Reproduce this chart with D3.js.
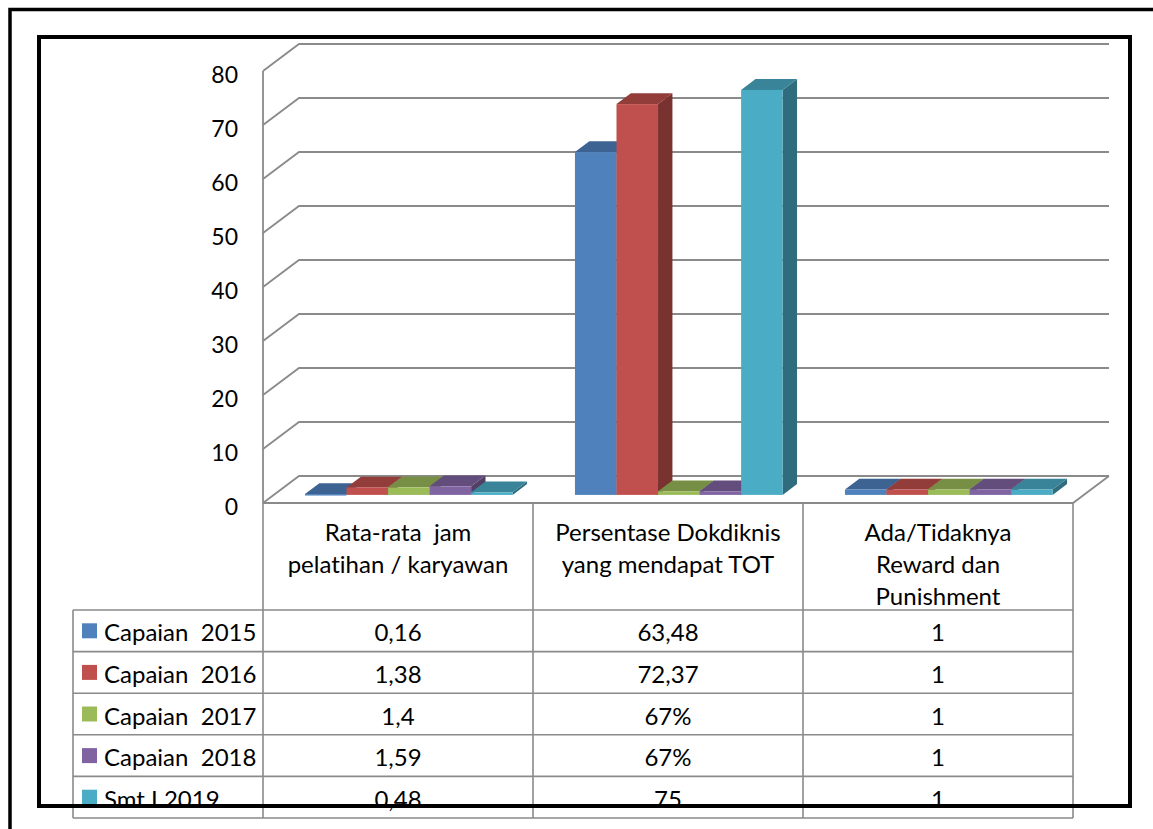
<!DOCTYPE html>
<html>
<head>
<meta charset="utf-8">
<script src="https://cdn.jsdelivr.net/npm/d3@7"></script>
<style>
  body { margin: 0; background: #fff; }
  svg { display: block; font-family: Lato, "Open Sans", sans-serif; font-variant-ligatures: none; }
  text { white-space: pre; fill: #000; }
</style>
</head>
<body>
<div id="chart"></div>
<script>
// categories (header rows of the data table)
const categories = [
    ['Rata-rata  jam', 'pelatihan / karyawan'],
    ['Persentase Dokdiknis', 'yang mendapat TOT'],
    ['Ada/Tidaknya', 'Reward dan', 'Punishment']
];

const seriesNames = ['Capaian  2015', 'Capaian  2016', 'Capaian  2017', 'Capaian  2018', 'Smt I 2019'];
const seriesColors = ['#4F81BD', '#C0504D', '#9BBB59', '#8064A2', '#4BACC6'];

// plotted values (67% is plotted as 0.67)
const values2015 = [0.16, 63.48, 1];
const values2016 = [1.38, 72.37, 1];
const values2017 = [1.4, 0.67, 1];
const values2018 = [1.59, 0.67, 1];
const values2019 = [0.48, 75, 1];

// values as printed in the table
const labels2015 = ['0,16', '63,48', '1'];
const labels2016 = ['1,38', '72,37', '1'];
const labels2017 = ['1,4', '67%', '1'];
const labels2018 = ['1,59', '67%', '1'];
const labels2019 = ['0,48', '75', '1'];

const yTicks = [0, 10, 20, 30, 40, 50, 60, 70, 80];

const seriesValues = [values2015, values2016, values2017, values2018, values2019];
const seriesLabels = [labels2015, labels2016, labels2017, labels2018, labels2019];

const W = 1153, H = 829;
const svg = d3.select('#chart').append('svg').attr('width', W).attr('height', H);

// front plane scales
const x = d3.scaleBand().domain(d3.range(categories.length)).range([263, 1073]);
const xs = d3.scaleBand().domain(d3.range(seriesNames.length)).range([0, x.bandwidth()])
    .paddingInner(0).paddingOuter(0.75);
const y = d3.scaleLinear().domain([0, 80]).range([503, 71]);

// depth of the floor and of the bars
const depth = { dx: 36, dy: -27 };
const barFront = 0.3, barBack = 0.7;

const gridColor = '#8a8a8a';
const fs = 24;

// back wall gridlines + left wall
const grid = svg.append('g');
yTicks.forEach(t => {
    grid.append('path')
        .attr('d', `M${x.range()[0]},${y(t)} l${depth.dx},${depth.dy} H${x.range()[1] + depth.dx}`)
        .attr('fill', 'none').attr('stroke', gridColor).attr('stroke-width', 1.8);
});
grid.append('line')
    .attr('x1', x.range()[0]).attr('x2', x.range()[0])
    .attr('y1', y(80)).attr('y2', y(0))
    .attr('stroke', gridColor).attr('stroke-width', 1.8);
// floor
grid.append('path')
    .attr('d', `M${x.range()[0]},${y(0)} H${x.range()[1]} l${depth.dx},${depth.dy}`)
    .attr('fill', 'none').attr('stroke', gridColor).attr('stroke-width', 1.8);

// y tick labels
svg.append('g').selectAll('text').data(yTicks).join('text')
    .attr('x', 238).attr('y', d => y(d) + 3)
    .attr('text-anchor', 'end').attr('dominant-baseline', 'central')
    .attr('font-size', 23).text(d => d);

// 3D bars
const bars = svg.append('g');
const fdx = depth.dx * barFront, fdy = depth.dy * barFront;
const bdx = depth.dx * (barBack - barFront), bdy = depth.dy * (barBack - barFront);
categories.forEach((c, ci) => {
    seriesNames.forEach((s, si) => {
        const v = seriesValues[si][ci];
        const col = d3.color(seriesColors[si]);
        const x0 = x(ci) + xs(si) + fdx, x1 = x0 + xs.bandwidth();
        const yt = y(v) + fdy, yb = y(0) + fdy;
        const g = bars.append('g');
        g.append('path')
            .attr('d', `M${x1},${yt} l${bdx},${bdy} V${yb + bdy} L${x1},${yb} Z`)
            .attr('fill', col.darker(1.3));
        g.append('path')
            .attr('d', `M${x0},${yt} H${x1} l${bdx},${bdy} H${x0 + bdx} Z`)
            .attr('fill', col.darker(0.75));
        g.append('rect')
            .attr('x', x0).attr('y', yt)
            .attr('width', xs.bandwidth()).attr('height', Math.max(yb - yt, 1.5))
            .attr('fill', col);
    });
});

// data table
const table = svg.append('g');
const rows = d3.scaleBand().domain(d3.range(seriesNames.length)).range([610, 818]);
const tableLeft = 73;
const lineStyle = sel => sel.attr('stroke', gridColor).attr('stroke-width', 1.6);

d3.range(categories.length + 1).forEach(i => {
    const xx = i < categories.length ? x(i) : x.range()[1];
    table.append('line').attr('x1', xx).attr('x2', xx).attr('y1', y(0)).attr('y2', rows.range()[1]).call(lineStyle);
});
table.append('line').attr('x1', tableLeft).attr('x2', tableLeft)
    .attr('y1', rows.range()[0]).attr('y2', rows.range()[1]).call(lineStyle);
d3.range(seriesNames.length + 1).forEach(i => {
    const yy = rows.range()[0] + i * rows.step();
    table.append('line').attr('x1', tableLeft).attr('x2', x.range()[1]).attr('y1', yy).attr('y2', yy).call(lineStyle);
});

// header texts
categories.forEach((lines, ci) => {
    lines.forEach((ln, li) => {
        table.append('text')
            .attr('x', x(ci) + x.bandwidth() / 2).attr('y', 531 + li * 32)
            .attr('text-anchor', 'middle').attr('dominant-baseline', 'central')
            .attr('font-size', fs).text(ln);
    });
});

// legend keys + values
seriesNames.forEach((s, si) => {
    const cy = rows(si) + rows.bandwidth() / 2;
    table.append('rect').attr('x', 82).attr('y', cy - 7.5).attr('width', 15).attr('height', 15)
        .attr('fill', seriesColors[si]);
    table.append('text').attr('x', 104).attr('y', cy + 1)
        .attr('dominant-baseline', 'central').attr('font-size', fs).text(s);
    seriesLabels[si].forEach((lab, ci) => {
        table.append('text')
            .attr('x', x(ci) + x.bandwidth() / 2).attr('y', cy + 1)
            .attr('text-anchor', 'middle').attr('dominant-baseline', 'central')
            .attr('font-size', fs).text(lab);
    });
});

// frames drawn on top
svg.append('path').attr('d', `M10,${H} V9.5 H${W}`)
    .attr('fill', 'none').attr('stroke', '#000').attr('stroke-width', 3.5);
svg.append('rect').attr('x', 39).attr('y', 37).attr('width', 1091).attr('height', 769)
    .attr('fill', 'none').attr('stroke', '#000').attr('stroke-width', 4);
</script>
</body>
</html>
